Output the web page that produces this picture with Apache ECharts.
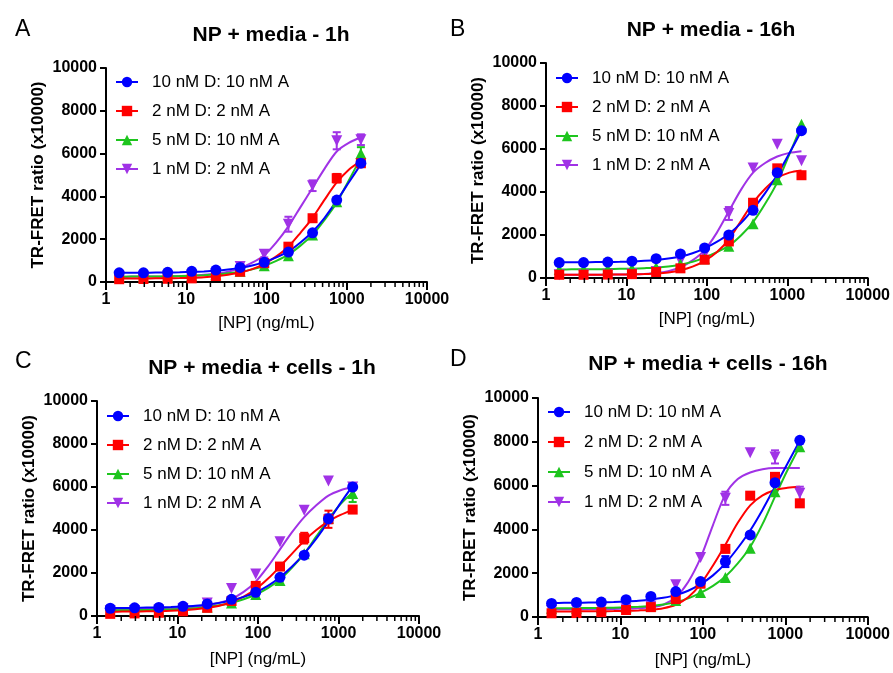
<!DOCTYPE html>
<html><head><meta charset="utf-8">
<script src="https://cdn.jsdelivr.net/npm/echarts@6/dist/echarts.min.js"></script>
<style>html,body{margin:0;padding:0;background:#fff}#c{width:893px;height:673px}</style>
</head><body><div id="c"></div>
<script>
// ---------- data ----------
const concentrations = [1.46, 2.93, 5.86, 11.7, 23.4, 46.9, 93.75, 187.5, 375, 750, 1500];
const fitConcentrations = [1.46, 2.07, 2.93, 4.14, 5.86, 8.28, 11.7, 16.6, 23.4, 33.1, 46.9, 66.3, 93.75, 132.6, 187.5, 265, 375, 530, 750, 1060, 1500];
const seriesNames = ['10 nM D: 10 nM A', '2 nM D: 2 nM A', '5 nM D: 10 nM A', '1 nM D: 2 nM A'];
const panelLetters = ['A', 'B', 'C', 'D'];
const panelTitles = ['NP + media - 1h', 'NP + media - 16h', 'NP + media + cells - 1h', 'NP + media + cells - 16h'];
const xAxisName = '[NP] (ng/mL)';
const yAxisName = 'TR-FRET ratio (x10000)';
const minorTickValues = [2,3,4,5,6,7,8,9,20,30,40,50,60,70,80,90,200,300,400,500,600,700,800,900,2000,3000,4000,5000,6000,7000,8000,9000];

// Panel A (NP + media - 1h): measured points
const A_blue   = [430, 430, 450, 500, 560, 680, 920, 1400, 2300, 3830, 5550];
const A_red    = [130, 140, 150, 170, 280, 480, 880, 1650, 2980, 4850, 5550];
const A_green  = [250, 250, 260, 290, 340, 500, 760, 1230, 2200, 3750, 6000];
const A_purple = [250, 250, 270, 310, 400, 720, 1300, 2700, 4500, 6600, 6650];
// Panel A fitted curves
const A_blue_fit   = [430, 432, 435, 440, 445, 455, 470, 495, 530, 585, 660, 770, 930, 1150, 1430, 1850, 2350, 3000, 3800, 4650, 5500];
const A_red_fit    = [160, 162, 165, 170, 175, 185, 200, 225, 270, 340, 440, 600, 850, 1200, 1650, 2300, 3000, 3850, 4650, 5250, 5650];
const A_green_fit  = [250, 252, 255, 260, 265, 275, 290, 315, 350, 405, 480, 590, 760, 990, 1280, 1700, 2200, 2900, 3700, 4750, 5800];
const A_purple_fit = [250, 252, 255, 260, 265, 280, 300, 335, 390, 480, 650, 900, 1250, 1850, 2600, 3500, 4400, 5300, 6100, 6500, 6750];
// Panel A error (+/-)
const A_blue_err   = [0, 0, 0, 0, 0, 0, 0, 0, 0, 0, 150];
const A_red_err    = [0, 0, 0, 0, 0, 0, 0, 0, 150, 200, 100];
const A_green_err  = [0, 0, 0, 0, 0, 0, 0, 0, 0, 0, 300];
const A_purple_err = [0, 0, 0, 0, 0, 100, 150, 350, 250, 400, 250];

// Panel B (NP + media - 16h)
const B_blue   = [720, 720, 740, 780, 900, 1120, 1400, 2000, 3150, 4900, 6850];
const B_red    = [150, 150, 160, 180, 280, 450, 850, 1700, 3500, 5100, 4780];
const B_green  = [400, 400, 420, 440, 500, 650, 900, 1480, 2520, 4570, 7150];
const B_purple = [150, 150, 170, 200, 300, 800, 1100, 3000, 5120, 6220, 5450];
const B_blue_fit   = [730, 732, 735, 740, 745, 755, 770, 800, 840, 905, 1000, 1150, 1380, 1680, 2050, 2550, 3200, 3950, 4800, 5800, 6850];
const B_red_fit    = [150, 150, 150, 152, 155, 160, 170, 185, 210, 260, 360, 530, 800, 1200, 1800, 2650, 3500, 4150, 4650, 4900, 5000];
const B_green_fit  = [400, 402, 405, 410, 415, 425, 435, 455, 480, 530, 620, 750, 950, 1200, 1500, 1980, 2600, 3450, 4450, 5750, 7100];
const B_purple_fit = [150, 150, 150, 152, 155, 160, 170, 190, 230, 320, 500, 820, 1300, 2100, 3100, 4100, 4900, 5350, 5650, 5820, 5900];
const B_blue_err   = [0, 0, 0, 0, 0, 0, 0, 0, 0, 0, 0];
const B_red_err    = [0, 0, 0, 0, 0, 0, 0, 0, 0, 0, 0];
const B_green_err  = [0, 0, 0, 0, 0, 0, 0, 0, 0, 0, 0];
const B_purple_err = [0, 0, 0, 0, 0, 0, 0, 300, 0, 0, 0];

// Panel C (NP + media + cells - 1h)
const C_blue   = [360, 380, 400, 450, 560, 775, 1100, 1800, 2830, 4520, 6000];
const C_red    = [100, 120, 150, 220, 380, 700, 1400, 2300, 3620, 4500, 4950];
const C_green  = [250, 260, 270, 330, 420, 600, 1000, 1650, 2900, 4550, 5700];
const C_purple = [250, 260, 280, 350, 600, 1280, 1950, 3450, 4920, 6280, 6000];
const C_blue_fit   = [370, 375, 380, 390, 400, 415, 440, 475, 530, 610, 730, 890, 1100, 1400, 1800, 2300, 2900, 3600, 4400, 5250, 6050];
const C_red_fit    = [200, 205, 210, 217, 225, 240, 270, 315, 380, 480, 650, 900, 1250, 1730, 2300, 2900, 3500, 4000, 4400, 4700, 4950];
const C_green_fit  = [260, 265, 270, 280, 290, 305, 330, 365, 420, 500, 620, 780, 1000, 1300, 1700, 2250, 2900, 3700, 4500, 5200, 5750];
const C_purple_fit = [300, 305, 310, 320, 330, 350, 380, 430, 500, 620, 800, 1120, 1600, 2300, 3100, 3900, 4600, 5150, 5600, 5850, 6000];
const C_blue_err   = [0, 0, 0, 0, 0, 0, 0, 0, 0, 200, 0];
const C_red_err    = [0, 0, 0, 0, 0, 0, 0, 0, 250, 400, 0];
const C_green_err  = [0, 0, 0, 0, 0, 0, 0, 0, 0, 0, 400];
const C_purple_err = [0, 0, 0, 0, 0, 0, 0, 0, 0, 0, 0];

// Panel D (NP + media + cells - 16h)
const D_blue   = [620, 665, 680, 790, 940, 1160, 1620, 2530, 3750, 6130, 8070];
const D_red    = [170, 180, 220, 320, 450, 820, 1520, 3110, 5540, 6400, 5190];
const D_green  = [400, 400, 420, 440, 500, 750, 1120, 1800, 3140, 5720, 7770];
const D_purple = [300, 320, 350, 380, 500, 1470, 2720, 5420, 7500, 7310, 5650];
const D_blue_fit   = [640, 645, 650, 660, 670, 685, 710, 745, 800, 880, 1000, 1200, 1500, 1900, 2450, 3150, 3950, 4900, 5950, 7000, 8050];
const D_red_fit    = [250, 252, 255, 260, 265, 270, 280, 300, 330, 400, 560, 900, 1500, 2350, 3300, 4300, 5100, 5550, 5800, 5900, 5950];
const D_green_fit  = [400, 402, 405, 410, 415, 425, 440, 465, 500, 570, 680, 850, 1100, 1420, 1850, 2450, 3200, 4250, 5500, 6700, 7800];
const D_purple_fit = [350, 352, 355, 360, 365, 370, 380, 400, 450, 560, 900, 1600, 2700, 4200, 5600, 6300, 6600, 6750, 6800, 6800, 6800];
const D_blue_err   = [0, 0, 0, 0, 0, 0, 0, 250, 0, 0, 0];
const D_red_err    = [0, 0, 0, 0, 0, 0, 0, 0, 0, 0, 0];
const D_green_err  = [0, 0, 0, 0, 0, 0, 0, 0, 0, 0, 0];
const D_purple_err = [0, 0, 0, 0, 0, 0, 0, 300, 0, 300, 300];

// ---------- styling ----------
const colors = ['#0000ff', '#ff0000', '#1ec51e', '#a032e6'];
const symbols = ['circle', 'rect', 'triangle', 'triangle'];
const symbolRot = [0, 0, 0, 180];
const symbolSizes = [11, 10, 11, 11];
const FONT = '"Liberation Sans", Arial, sans-serif';

const panelPoints = [
  [A_blue, A_red, A_green, A_purple],
  [B_blue, B_red, B_green, B_purple],
  [C_blue, C_red, C_green, C_purple],
  [D_blue, D_red, D_green, D_purple]
];
const panelFits = [
  [A_blue_fit, A_red_fit, A_green_fit, A_purple_fit],
  [B_blue_fit, B_red_fit, B_green_fit, B_purple_fit],
  [C_blue_fit, C_red_fit, C_green_fit, C_purple_fit],
  [D_blue_fit, D_red_fit, D_green_fit, D_purple_fit]
];
const panelErrs = [
  [A_blue_err, A_red_err, A_green_err, A_purple_err],
  [B_blue_err, B_red_err, B_green_err, B_purple_err],
  [C_blue_err, C_red_err, C_green_err, C_purple_err],
  [D_blue_err, D_red_err, D_green_err, D_purple_err]
];

const grids = [
  {left: 106, top: 68, width: 321, height: 214},
  {left: 546, top: 63, width: 323, height: 215},
  {left: 97, top: 401, width: 322, height: 215},
  {left: 538, top: 398, width: 330, height: 219}
];
const titlePos = [
  {x: 266, y: 20}, {x: 706, y: 15}, {x: 257, y: 353}, {x: 703, y: 349}
];
const letterPos = [
  {x: 10, y: 13}, {x: 445, y: 13}, {x: 10, y: 345}, {x: 445, y: 343}
];
const legendPos = [
  {x: 115, y: 73, gap: 11}, {x: 555, y: 69, gap: 11}, {x: 106, y: 407, gap: 11}, {x: 547, y: 403, gap: 12}
];

const option = {
  animation: false,
  backgroundColor: '#fff',
  title: [],
  legend: [],
  grid: [],
  xAxis: [],
  yAxis: [],
  series: []
};

function renderErr(params, api) {
  const x = api.value(0), lo = api.value(1), hi = api.value(2), ci = api.value(3);
  const p1 = api.coord([x, lo]), p2 = api.coord([x, hi]);
  const c = colors[ci];
  const cap = 4;
  const st = {stroke: c, lineWidth: 2};
  return {type: 'group', children: [
    {type: 'line', shape: {x1: p1[0], y1: p1[1], x2: p2[0], y2: p2[1]}, style: st},
    {type: 'line', shape: {x1: p1[0] - cap, y1: p1[1], x2: p1[0] + cap, y2: p1[1]}, style: st},
    {type: 'line', shape: {x1: p2[0] - cap, y1: p2[1], x2: p2[0] + cap, y2: p2[1]}, style: st}
  ]};
}
function renderMinor(params, api) {
  const p = api.coord([api.value(0), 0]);
  return {type: 'line', shape: {x1: p[0], y1: p[1], x2: p[0], y2: p[1] + 5}, style: {stroke: '#000', lineWidth: 1.5}};
}
function plainNumber(v) { return String(Math.round(v)); }

const drawOrder = [3, 2, 1, 0];

for (let p = 0; p < 4; p++) {
  option.grid.push(grids[p]);
  option.title.push({
    text: panelTitles[p], left: titlePos[p].x, top: titlePos[p].y, textAlign: 'center',
    textStyle: {fontFamily: FONT, fontWeight: 'bold', fontSize: 21, color: '#000'}
  });
  option.title.push({
    text: panelLetters[p], left: letterPos[p].x, top: letterPos[p].y,
    textStyle: {fontFamily: FONT, fontWeight: 'normal', fontSize: 23, color: '#000'}
  });
  option.legend.push({
    data: seriesNames, orient: 'vertical', left: legendPos[p].x, top: legendPos[p].y,
    itemWidth: 22, itemHeight: 13, itemGap: legendPos[p].gap, padding: 0,
    textStyle: {fontFamily: FONT, fontSize: 17, color: '#000', lineHeight: 18, padding: [0, 0, 0, 9]},
    selectedMode: false
  });
  option.xAxis.push({
    type: 'log', logBase: 10, min: 1, max: 10000, gridIndex: p,
    name: xAxisName, nameLocation: 'middle', nameGap: p < 2 ? 33 : 35,
    nameTextStyle: {fontFamily: FONT, fontSize: 17, color: '#000'},
    axisLine: {show: true, onZero: false, lineStyle: {color: '#000', width: 2}},
    axisTick: {show: true, inside: false, length: 8, lineStyle: {color: '#000', width: 2}},
    axisLabel: {fontFamily: FONT, fontWeight: 'bold', fontSize: 16, color: '#000', margin: 10, formatter: plainNumber},
    splitLine: {show: false}, minorTick: {show: false}
  });
  option.yAxis.push({
    type: 'value', min: 0, max: 10000, interval: 2000, gridIndex: p,
    name: yAxisName, nameLocation: 'middle', nameGap: 59, nameRotate: 90,
    nameTextStyle: {fontFamily: FONT, fontSize: 17, fontWeight: 'bold', color: '#000'},
    axisLine: {show: true, lineStyle: {color: '#000', width: 2}},
    axisTick: {show: true, inside: false, length: 6, lineStyle: {color: '#000', width: 2}},
    axisLabel: {fontFamily: FONT, fontWeight: 'bold', fontSize: 16, color: '#000', margin: 9, formatter: plainNumber},
    splitLine: {show: false}
  });
  // fitted curves
  drawOrder.forEach(function (s) {
    option.series.push({
      type: 'line', name: seriesNames[s], xAxisIndex: p, yAxisIndex: p,
      data: fitConcentrations.map(function (c, i) { return [c, panelFits[p][s][i]]; }),
      smooth: 0.3, showSymbol: false,
      symbol: symbols[s], symbolRotate: symbolRot[s], symbolSize: symbolSizes[s],
      lineStyle: {color: colors[s], width: 2}, itemStyle: {color: colors[s]},
      z: 2, silent: true
    });
  });
  // error bars
  const errData = [];
  drawOrder.forEach(function (s) {
    concentrations.forEach(function (c, i) {
      const e = panelErrs[p][s][i];
      if (e > 0) errData.push([c, panelPoints[p][s][i] - e, panelPoints[p][s][i] + e, s]);
    });
  });
  option.series.push({
    type: 'custom', xAxisIndex: p, yAxisIndex: p, renderItem: renderErr,
    data: errData, encode: {x: 0, y: [1, 2]}, z: 3, silent: true
  });
  // markers
  drawOrder.forEach(function (s) {
    option.series.push({
      type: 'scatter', name: seriesNames[s], xAxisIndex: p, yAxisIndex: p,
      data: concentrations.map(function (c, i) { return [c, panelPoints[p][s][i]]; }),
      symbol: symbols[s], symbolRotate: symbolRot[s], symbolSize: symbolSizes[s],
      itemStyle: {color: colors[s], opacity: 1}, z: 4, silent: true
    });
  });
  // log minor ticks
  option.series.push({
    type: 'custom', xAxisIndex: p, yAxisIndex: p, renderItem: renderMinor,
    data: minorTickValues.map(function (v) { return [v, 0]; }), encode: {x: 0, y: 1},
    z: 5, silent: true, clip: false
  });
}

const chart = echarts.init(document.getElementById('c'), null, {renderer: 'canvas'});
chart.setOption(option);
</script>
</body></html>
